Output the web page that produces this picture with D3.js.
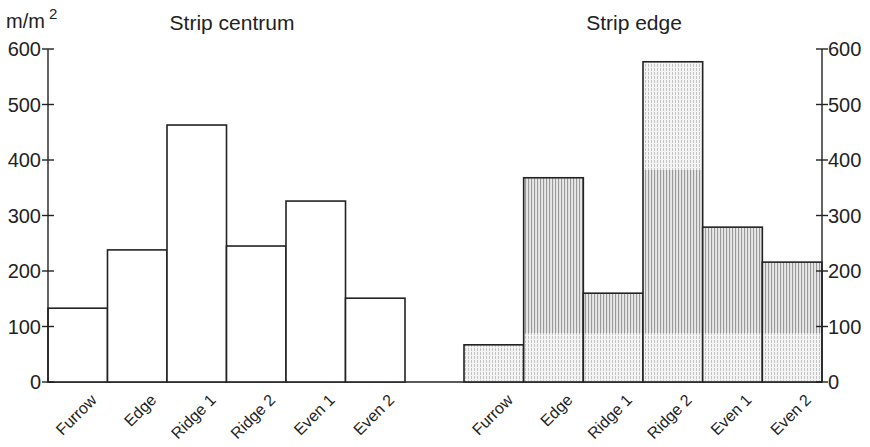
<!DOCTYPE html>
<html>
<head>
<meta charset="utf-8">
<script src="https://cdn.jsdelivr.net/npm/d3@7"></script>
<style>
  body { margin: 0; background: #fff; }
  svg { display: block; }
  text { font-family: "Liberation Sans", Arial, sans-serif; fill: #222; }
</style>
</head>
<body>
<svg id="chart" width="870" height="447"></svg>
<script>
// Root density (m/m2) by position across the strip
const categories = ["Furrow", "Edge", "Ridge 1", "Ridge 2", "Even 1", "Even 2"];
const centrumValues = [133, 238, 463, 245, 326, 151];
const edgeValues = [67, 368, 160, 577, 279, 216];
const yTicks = [0, 100, 200, 300, 400, 500, 600];
const panelTitles = ["Strip centrum", "Strip edge"];

const svg = d3.select("#chart");
const ink = "#222";

const y = d3.scaleLinear().domain([0, 600]).range([382, 49]);

const xLeft = d3.scaleBand().domain(categories).range([48, 405]).padding(0);
const xRight = d3.scaleBand().domain(categories).range([464, 822]).padding(0);

// vertical hatching used for the strip-edge bars
const defs = svg.append("defs");
const pat = defs.append("pattern")
  .attr("id", "hatch").attr("patternUnits", "userSpaceOnUse")
  .attr("width", 3).attr("height", 4);
pat.append("rect").attr("width", 3).attr("height", 4).attr("fill", "#e8e8e8");
pat.append("rect").attr("x", 0).attr("width", 1.1).attr("height", 4).attr("fill", "#999");

const patLight = defs.append("pattern")
  .attr("id", "hatchLight").attr("patternUnits", "userSpaceOnUse")
  .attr("width", 3).attr("height", 4);
patLight.append("rect").attr("width", 3).attr("height", 4).attr("fill", "#f4f4f4");
patLight.append("rect").attr("x", 0).attr("width", 1).attr("height", 3).attr("fill", "#c4c4c4");

// baseline spanning both panels
svg.append("line")
  .attr("x1", xLeft.range()[0]).attr("x2", xRight.range()[1])
  .attr("y1", y(0)).attr("y2", y(0))
  .attr("stroke", ink).attr("stroke-width", 1.6);

// left panel: open bars
svg.append("g").selectAll("rect").data(centrumValues).join("rect")
  .attr("x", (d, i) => xLeft(categories[i]))
  .attr("y", d => y(d))
  .attr("width", xLeft.bandwidth())
  .attr("height", d => y(0) - y(d))
  .attr("fill", "#fff").attr("stroke", ink).attr("stroke-width", 1.6);

// right panel: hatched bars, lighter tone near the base and near the top
const gR = svg.append("g");
const bandsLight = [[0, 88], [382, 600]];
edgeValues.forEach((v, i) => {
  const x0 = xRight(categories[i]);
  const w = xRight.bandwidth();
  gR.append("rect").attr("x", x0).attr("y", y(v)).attr("width", w)
    .attr("height", y(0) - y(v)).attr("fill", "url(#hatch)");
  bandsLight.forEach(([lo, hi]) => {
    const top = Math.min(v, hi);
    if (top > lo) {
      gR.append("rect").attr("x", x0).attr("y", y(top)).attr("width", w)
        .attr("height", y(lo) - y(top)).attr("fill", "url(#hatchLight)");
    }
  });
  gR.append("rect").attr("x", x0).attr("y", y(v)).attr("width", w)
    .attr("height", y(0) - y(v)).attr("fill", "none")
    .attr("stroke", ink).attr("stroke-width", 1.6);
});

// axes with ticks crossing the axis line
function drawAxis(xPos, side) {
  const g = svg.append("g");
  g.append("line").attr("x1", xPos).attr("x2", xPos)
    .attr("y1", y(600)).attr("y2", y(0))
    .attr("stroke", ink).attr("stroke-width", 1.4);
  g.selectAll("line.t").data(yTicks).join("line").attr("class", "t")
    .attr("x1", xPos - 6).attr("x2", xPos + 6)
    .attr("y1", d => y(d)).attr("y2", d => y(d))
    .attr("stroke", ink).attr("stroke-width", 1.4);
  g.selectAll("text").data(yTicks).join("text")
    .attr("x", side === "left" ? xPos - 7 : xPos + 6)
    .attr("y", d => y(d)).attr("dy", "0.36em")
    .attr("text-anchor", side === "left" ? "end" : "start")
    .attr("font-size", 20)
    .text(d => d);
}
drawAxis(xLeft.range()[0], "left");
drawAxis(xRight.range()[1], "right");

// rotated category labels
function drawLabels(scale) {
  svg.append("g").selectAll("text").data(categories).join("text")
    .attr("transform", d => `translate(${scale(d) + scale.bandwidth() / 2 + 20},${y(0) + 19}) rotate(-45)`)
    .attr("text-anchor", "end")
    .attr("font-size", 16)
    .text(d => d);
}
drawLabels(xLeft);
drawLabels(xRight);

// panel titles
svg.append("text").attr("x", 232).attr("y", 30).attr("text-anchor", "middle")
  .attr("font-size", 21).text(panelTitles[0]);
svg.append("text").attr("x", 634).attr("y", 30).attr("text-anchor", "middle")
  .attr("font-size", 21).text(panelTitles[1]);

// unit label
const unit = svg.append("text").attr("x", 6).attr("y", 28).attr("font-size", 20);
unit.append("tspan").text("m/m");
unit.append("tspan").attr("dx", 4).attr("dy", -9).attr("font-size", 15).text("2");
</script>
</body>
</html>
